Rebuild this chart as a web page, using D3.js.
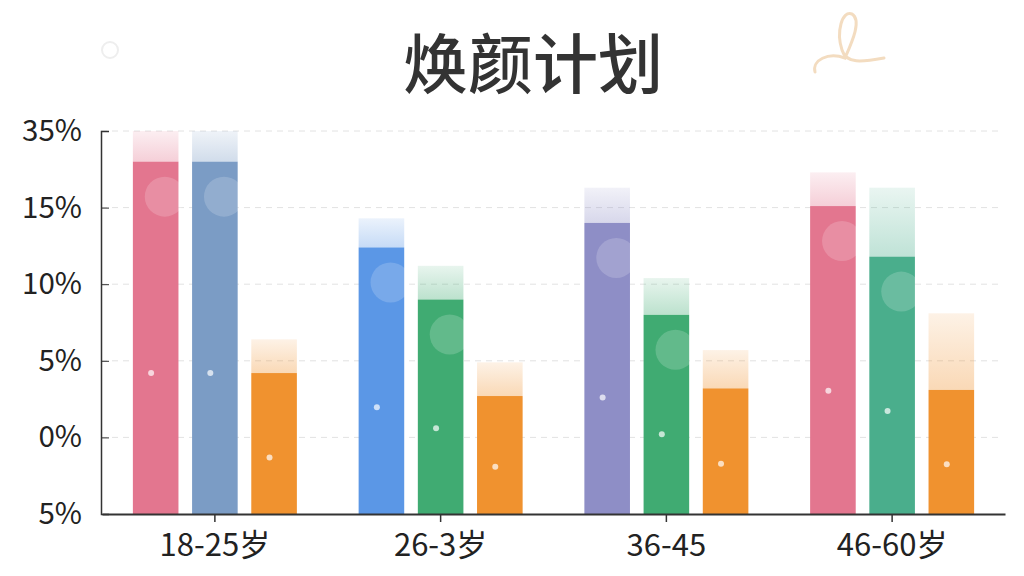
<!DOCTYPE html>
<html><head><meta charset="utf-8">
<script src="https://cdn.jsdelivr.net/npm/d3@7/dist/d3.min.js"></script>
<style>body{margin:0;background:#fff;}svg{display:block;}</style>
</head><body>
<svg id="c" width="1024" height="576"></svg>
<script>
const categories = ["18-25岁","26-3岁","36-45","46-60岁"];
const seriesA = [23.0, 17.4, 19.0, 20.1];
const seriesB = [23.0, 14.0, 13.0, 16.8];
const seriesC = [9.2, 7.7, 8.2, 8.1];
const capA = [25.0, 19.3, 21.3, 22.3];
const capB = [25.0, 16.2, 15.4, 21.3];
const capC = [11.4, 9.9, 10.7, 13.1];
const colorsA = ["#e3768f","#5b97e6","#8e8ec6","#e3768f"];
const colorsB = ["#7b9cc5","#40ab72","#40ab72","#4aae8c"];
const colorsC = ["#f0922f","#f0922f","#f0922f","#f0922f"];
const tickValues = [0,5,10,15,20,25];
const tickLabels = ["5%","0%","5%","10%","15%","35%"];
const title = "焕颜计划";

const svg = d3.select("#c");
const font = "'Noto Sans CJK SC','Noto Sans',sans-serif";
const y = d3.scaleLinear().domain([0,25]).range([514,131]);
const x0 = d3.scaleBand().domain(categories).range([102,1005]);
const x1 = d3.scaleBand().domain(["A","B","C"]).range([-82,82]).paddingInner(0.23);

// decorations
svg.append("circle").attr("cx",110).attr("cy",50).attr("r",8).attr("fill","none").attr("stroke","#eee").attr("stroke-width",2);
svg.append("path").attr("d","M815,72 C812,60 828,52 845,58 C852,42 862,20 852,14 C842,10 836,32 842,50 C846,64 862,62 884,58")
  .attr("fill","none").attr("stroke","#f3dcc0").attr("stroke-width",3).attr("stroke-linecap","round");

// grid
svg.append("g").selectAll("line").data(tickValues.slice(1)).join("line")
  .attr("x1",101).attr("x2",1000).attr("y1",d=>y(d)).attr("y2",d=>y(d))
  .attr("stroke","#e2e2e2").attr("stroke-width",1).attr("stroke-dasharray","6,5");

// gradients
const defs = svg.append("defs");
const allColors = Array.from(new Set([...colorsA,...colorsB,...colorsC]));
allColors.forEach((c,i)=>{
  const g = defs.append("linearGradient").attr("id","cap"+i).attr("x1",0).attr("y1",0).attr("x2",0).attr("y2",1);
  g.append("stop").attr("offset","0%").attr("stop-color",c).attr("stop-opacity",0.12);
  g.append("stop").attr("offset","100%").attr("stop-color",c).attr("stop-opacity",0.35);
});
const capId = c => "url(#cap"+allColors.indexOf(c)+")";

const rows = [];
categories.forEach((cat,i)=>{
  rows.push({cat,key:"A",v:seriesA[i],cap:capA[i],color:colorsA[i]});
  rows.push({cat,key:"B",v:seriesB[i],cap:capB[i],color:colorsB[i]});
  rows.push({cat,key:"C",v:seriesC[i],cap:capC[i],color:colorsC[i]});
});
const bx = d => x0(d.cat)+x0.bandwidth()/2+x1(d.key);
const bars = svg.append("g");
bars.selectAll("rect.cap").data(rows).join("rect").attr("class","cap")
  .attr("x",bx).attr("width",x1.bandwidth())
  .attr("y",d=>y(d.cap)).attr("height",d=>y(d.v)-y(d.cap))
  .attr("fill",d=>capId(d.color));
bars.selectAll("rect.bar").data(rows).join("rect").attr("class","bar")
  .attr("x",bx).attr("width",x1.bandwidth())
  .attr("y",d=>y(d.v)).attr("height",d=>y(0)-y(d.v))
  .attr("fill",d=>d.color);
// soft bokeh highlights on bars
bars.selectAll("circle.bk").data(rows.filter(d=>d.key!=="C")).join("circle").attr("class","bk")
  .attr("cx",d=>bx(d)+x1.bandwidth()*0.7).attr("cy",d=>y(d.v)+35)
  .attr("r",20).attr("fill","#fff").attr("opacity",0.18);
bars.selectAll("circle.dot").data(rows).join("circle").attr("class","dot")
  .attr("cx",d=>bx(d)+x1.bandwidth()*0.4).attr("cy",d=>y(d.v*0.4))
  .attr("r",3).attr("fill","#fff").attr("opacity",0.7);

// axes
const yAxis = d3.axisLeft(y).tickValues(tickValues).tickFormat((d,i)=>tickLabels[i]).tickSize(-8).tickPadding(19);
const gy = svg.append("g").attr("transform","translate(101,0)").call(yAxis);
gy.select(".domain").attr("stroke","#333").attr("stroke-width",1.5);
gy.selectAll(".tick line").attr("stroke","#333");
gy.selectAll("text").attr("font-family",font).attr("font-size",29.5).attr("fill","#222");

const xAxis = d3.axisBottom(x0).tickSize(8).tickPadding(12).tickSizeOuter(0);
const gx = svg.append("g").attr("transform","translate(0,514)").call(xAxis);
gx.select(".domain").attr("stroke","#333").attr("stroke-width",2);
gx.selectAll(".tick line").attr("stroke","#333").attr("stroke-width",1.5);
gx.selectAll("text").attr("font-family",font).attr("font-size",31).attr("fill","#222");

svg.append("text").attr("x",533).attr("y",88).attr("text-anchor","middle")
  .attr("font-family",font).attr("font-size",65).attr("font-weight",500).attr("fill","#333").text(title);
</script>
</body></html>
